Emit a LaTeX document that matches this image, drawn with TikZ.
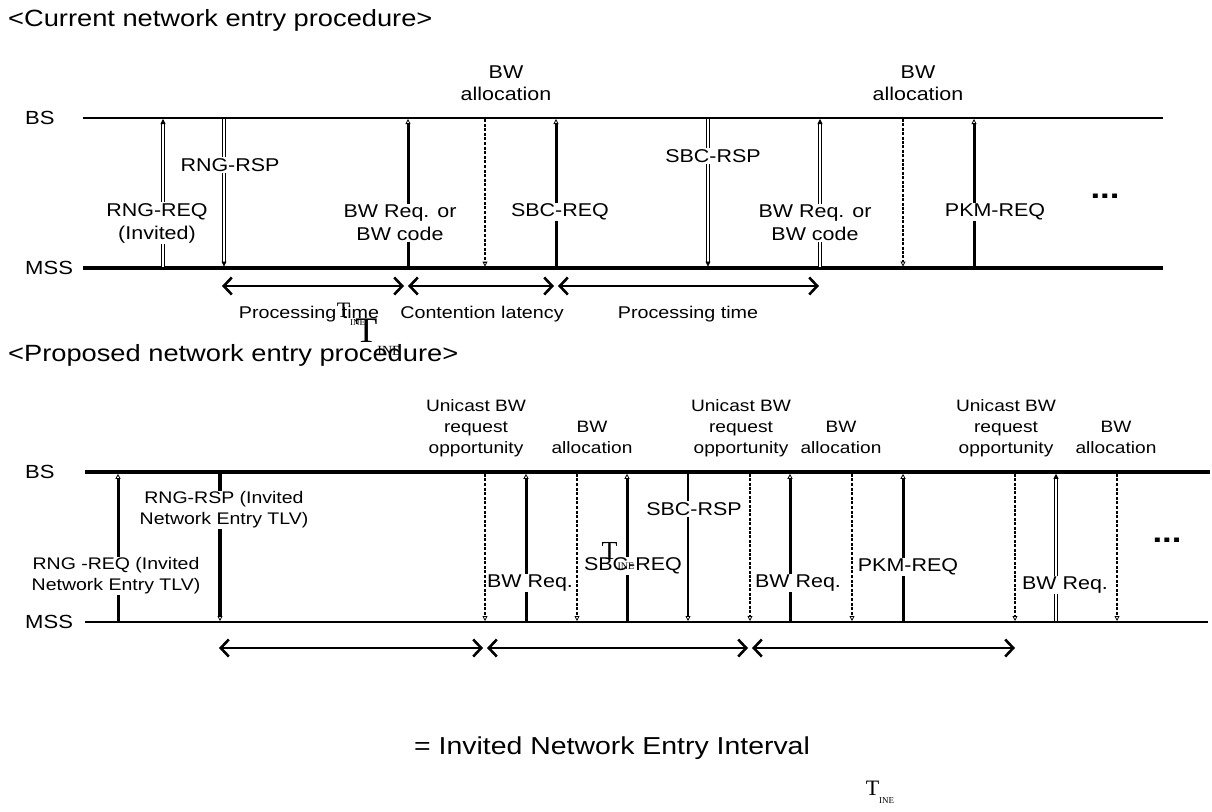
\documentclass[tikz,border=0pt]{standalone}
\usepackage{fontspec}
\setmainfont[FakeStretch=1.16]{Liberation Sans}
\newfontfamily\tfont{Liberation Serif}
\usetikzlibrary{arrows.meta}
\newcommand{\tine}[2]{{\tfont\fontsize{#1}{#1}\selectfont T\raisebox{-0.35em}{\fontsize{#2}{#2}\selectfont INE}}}
\begin{document}
\begin{tikzpicture}[x=1pt,y=-1pt,
  title/.style={font=\fontsize{23.5}{26}\selectfont, anchor=west, inner sep=0pt},
  side/.style={font=\fontsize{19}{22}\selectfont, anchor=west, inner sep=0pt},
  lbl/.style={font=\fontsize{18.5}{23}\selectfont, fill=white, inner sep=1pt, align=center},
  lblb/.style={font=\fontsize{16.8}{21}\selectfont, fill=white, inner sep=1pt, align=center},
  toplbl/.style={font=\fontsize{18.5}{22}\selectfont, inner sep=0pt, align=center},
  toplblb/.style={font=\fontsize{16.5}{21}\selectfont, inner sep=0pt, align=center},
  ilbl/.style={font=\fontsize{17}{20}\selectfont, inner sep=0pt},
  thinlife/.style={line width=2pt},
  thicklife/.style={line width=3.4pt},
  tipopen/.style={-{Triangle[open,length=5pt,width=5pt,line width=0.8pt]}},
  tipfill/.style={-{Triangle[length=5pt,width=5pt]}},
  msgdouble/.style={double, double distance=1.8pt, line width=0.8pt, tipfill},
  msgthick/.style={line width=3pt, tipopen},
  msgdash/.style={line width=1.7pt, dash pattern=on 3pt off 1.6pt, tipopen},
  msgdashb/.style={line width=2.5pt, dash pattern=on 3pt off 1.4pt, tipopen},
  interval/.style={line width=2pt, {Straight Barb[length=8pt,width=17pt,line width=2.6pt]}-{Straight Barb[length=8pt,width=17pt,line width=2.6pt]}},
  dots/.style={font=\fontsize{30}{30}\selectfont\bfseries, inner sep=0pt}
]
\useasboundingbox (0,0) rectangle (1212,811);

% ---------------- Top diagram ----------------
\node[title] (t1) at (8,20) {<Current network entry procedure>};
\node[side] (bs1) at (25,118) {BS};
\node[side] (mss1) at (25,268) {MSS};
\coordinate (bs1s) at (83,118);  \coordinate (bs1e) at (1163,118);
\coordinate (ms1s) at (83,268);  \coordinate (ms1e) at (1163,268);
\draw[thinlife] (bs1s) -- (bs1e);
\draw[thicklife] (ms1s) -- (ms1e);

\foreach \n/\x in {a/163,b/224,c/408,d/485,e/556,f/708,g/820,h/903,i/974}{
  \coordinate (u\n) at (\x,119);
  \coordinate (l\n) at (\x,266.5);
}
\draw[msgdouble] (la) -- (ua);
\draw[msgdouble] (ub) -- (lb);
\draw[msgthick] (lc) -- (uc);
\draw[msgdash] (ud) -- (ld);
\draw[msgthick] (le) -- (ue);
\draw[msgdouble] (uf) -- (lf);
\draw[msgdouble] (lg) -- (ug);
\draw[msgdashb] (uh) -- (lh);
\draw[msgthick] (li) -- (ui);

\node[lbl] (ra) at (157,223) {RNG-REQ\\(Invited)};
\node[lbl] (rb) at (230,165) {RNG-RSP};
\node[lbl] (rc) at (400,223) {BW Req. or\\BW code};
\node[toplbl] (rd) at (506,83) {BW\\allocation};
\node[lbl] (re) at (560,212) {SBC-REQ};
\node[lbl] (rf) at (713,156) {SBC-RSP};
\node[lbl] (rg) at (815,223) {BW Req. or\\BW code};
\node[toplbl] (rh) at (918,83) {BW\\allocation};
\node[lbl] (ri) at (995,212) {PKM-REQ};
\node[dots] (dt1) at (1105,196) {...};

\coordinate (p1) at (222,286);
\coordinate (p2) at (404,286);
\coordinate (p3) at (408,286);
\coordinate (p4) at (554,286);
\coordinate (p5) at (558,286);
\coordinate (p6) at (819,286);
\draw[interval] (p1) -- (p2);
\draw[interval] (p3) -- (p4);
\draw[interval] (p5) -- (p6);
\node[ilbl] (q1) at (309,314) {Processing time};
\node[ilbl] (q2) at (482,314) {Contention latency};
\node[ilbl] (q3) at (688,314) {Processing time};

\node[inner sep=0pt] (tin1) at (351,314) {\tine{22}{9}};
\node[inner sep=0pt] (tin2) at (378,337) {\tine{36}{14}};

% ---------------- Bottom diagram ----------------
\node[title] (t2) at (8,355) {<Proposed network entry procedure>};
\node[side] (bs2) at (25,472) {BS};
\node[side] (mss2) at (25,622) {MSS};
\coordinate (bs2s) at (85,472);  \coordinate (bs2e) at (1210,472);
\coordinate (ms2s) at (85,622);  \coordinate (ms2e) at (1208,622);
\draw[thicklife] (bs2s) -- (bs2e);
\draw[thinlife] (ms2s) -- (ms2e);

\foreach \n/\x in {A/118,B/220,C/485,D/526,E/577,F/627,G/688,H/750,I/790,J/852,K/903,L/1015,M/1056,N/1117}{
  \coordinate (u\n) at (\x,473.8);
  \coordinate (l\n) at (\x,621);
}
\draw[msgthick] (lA) -- (uA);
\draw[msgthick,line width=3.2pt] (uB) -- (lB);
\draw[msgdash] (uC) -- (lC);
\draw[msgthick] (lD) -- (uD);
\draw[msgdash] (uE) -- (lE);
\draw[msgthick] (lF) -- (uF);
\draw[msgthick,line width=2.2pt] (uG) -- (lG);
\draw[msgdashb] (uH) -- (lH);
\draw[msgthick] (lI) -- (uI);
\draw[msgdash] (uJ) -- (lJ);
\draw[msgthick] (lK) -- (uK);
\draw[msgdashb] (uL) -- (lL);
\draw[msgdouble] (lM) -- (uM);
\draw[msgdash] (uN) -- (lN);

\node[lblb] (sA) at (116,576) {RNG -REQ (Invited\\Network Entry TLV)};
\node[lblb] (sB) at (224,510) {RNG-RSP (Invited\\Network Entry TLV)};
\node[toplblb] (sC) at (476,428) {Unicast BW\\request\\opportunity};
\node[lbl] (sD) at (530,583) {BW Req.};
\node[toplblb] (sE) at (592,437) {BW\\allocation};
\node[lbl] (sF) at (633,566) {SBC-REQ};
\node[lbl] (sG) at (694,509) {SBC-RSP};
\node[toplblb] (sH) at (741,428) {Unicast BW\\request\\opportunity};
\node[lbl] (sI) at (798,583) {BW Req.};
\node[toplblb] (sJ) at (841,437) {BW\\allocation};
\node[lbl] (sK) at (908,567) {PKM-REQ};
\node[toplblb] (sL) at (1006,428) {Unicast BW\\request\\opportunity};
\node[lbl] (sM) at (1065,585) {BW Req.};
\node[toplblb] (sN) at (1116,437) {BW\\allocation};
\node[dots] (dt2) at (1167,540) {...};

\coordinate (v1) at (219,648);
\coordinate (v2) at (483,648);
\coordinate (v3) at (487,648);
\coordinate (v4) at (748,648);
\coordinate (v5) at (752,648);
\coordinate (v6) at (1015,648);
\draw[interval] (v1) -- (v2);
\draw[interval] (v3) -- (v4);
\draw[interval] (v5) -- (v6);

\node[inner sep=0pt] (tin3) at (618,556) {\tine{26}{10}};
\node[font=\fontsize{24.5}{28}\selectfont, inner sep=0pt, anchor=west] (leg) at (414,748) {= Invited Network Entry Interval};
\node[inner sep=0pt] (tin4) at (880,792) {\tine{22}{9}};
\end{tikzpicture}
\end{document}
